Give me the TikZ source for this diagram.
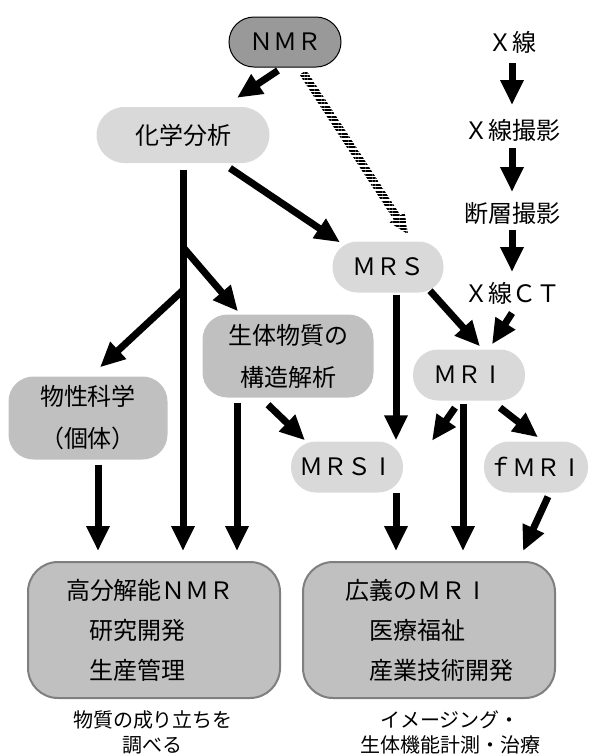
\documentclass[tikz,border=0pt]{standalone}
\usepackage{fontspec}
\setmainfont{Noto Sans CJK JP}
\usetikzlibrary{shapes, arrows.meta, positioning, calc, patterns.meta}

\definecolor{nmrgray}{HTML}{999999}
\definecolor{pillgray}{HTML}{D9D9D9}
\definecolor{boxgray}{HTML}{C0C0C0}
\definecolor{edgegray}{HTML}{7F7F7F}

% plain capital I in a full-width box
\newcommand\wideI{\makebox[1em]{I}}

\begin{document}
\begin{tikzpicture}[x=1pt, y=-1pt,
    pill/.style={fill=pillgray, rounded corners=25pt, minimum height=51pt, inner sep=0pt, font=\fontsize{24}{28}\selectfont},
    topic/.style={fill=boxgray, rounded corners=25pt, minimum height=83pt, inner sep=0pt, align=center, font=\fontsize{24}{42}\selectfont},
    field/.style={fill=boxgray, draw=edgegray, line width=2pt, rounded corners=30pt, minimum width=252pt, minimum height=136pt, inner sep=0pt, align=left, font=\fontsize{24}{40}\selectfont},
    plain/.style={inner sep=0pt, font=\fontsize{24}{28}\selectfont},
    caption/.style={inner sep=0pt, align=center, font=\fontsize{20}{25}\selectfont},
    arr/.style={line width=7pt, -{Triangle[width=22pt,length=25pt]}},
    hatch/.style={pattern={Lines[angle=0,distance=3.4pt,line width=2.1pt]}}
  ]
  \useasboundingbox (0,0) rectangle (591,756);

  % --- NODES ---
  \node[pill, fill=nmrgray, draw=black, line width=1pt, minimum width=112pt, minimum height=50pt] (nmr) at (285,42) {ＮＭＲ};
  \node[pill, minimum width=173pt, minimum height=56pt, rounded corners=28pt] (kagaku) at (183,135) {化学分析};
  \node[pill, minimum width=111pt] (mrs) at (388,267) {ＭＲＳ};
  \node[pill, minimum width=112pt] (mri) at (469,375) {ＭＲ\wideI};
  \node[pill, minimum width=112pt] (mrsi) at (347,467) {ＭＲＳ\wideI};
  \node[pill, minimum width=104pt] (fmri) at (536,467) {ｆＭＲ\wideI};
  \node[topic, minimum width=171pt] (seitai) at (288,356) {生体物質の\\構造解析};
  \node[topic, minimum width=159pt] (bussei) at (88,418) {物性科学\\（個体）};

  % X-ray chain
  \node[plain] (xsen) at (512,42) {Ｘ線};
  \node[plain] (xsatsu) at (512,130) {Ｘ線撮影};
  \node[plain] (dansou) at (512,213) {断層撮影};
  \node[plain] (xct) at (512,293) {Ｘ線ＣＴ};

  % --- FIELDS ---
  \node[field] (koubun) at (154,630) {高分解能ＮＭＲ\hspace*{8pt}\\\hspace*{1em}研究開発\\\hspace*{1em}生産管理};
  \node[field] (kougi) at (429,630) {広義のＭＲ\wideI\\\hspace*{1em}医療福祉\\\hspace*{1em}産業技術開発};
  \node[caption] (capl) at (153,732) {物質の成り立ちを\\調べる};
  \node[caption] (capr) at (450,732) {イメージング・\\生体機能計測・治療};

  % --- ARROWS ---
  \draw[arr] ($(nmr.south)+(-7,3)$) -- ($(kagaku.north)+(54,-9)$);
  \draw[arr] ($(kagaku.south)+(47,5)$) -- ($(mrs.north)+(-48,1)$);

  % trunk of chemical analysis
  \coordinate (b1) at ($(kagaku.south)+(0,84)$);
  \coordinate (b2) at ($(kagaku.south)+(0,127)$);
  \draw[arr, shorten <=7pt, shorten >=10pt] (kagaku.south) -- (kagaku.south |- koubun.north);
  \draw[arr] (b1) -- ($(seitai.north)+(-50,-3)$);
  \draw[arr] (b2) -- ($(bussei.north)+(12,-9)$);

  \draw[arr, shorten >=10pt] ($(seitai.south)+(-51,5)$) coordinate (s1) -- (s1 |- koubun.north);
  \draw[arr] ($(seitai.south)+(-20,7)$) -- ($(mrsi.north)+(-42,-1)$);
  \draw[arr, shorten >=10pt] ($(bussei.south)+(10,5)$) coordinate (p1) -- (p1 |- koubun.north);

  \draw[arr, shorten >=1pt] ($(mrs.south)+(8,2)$) coordinate (m1) -- (m1 |- mrsi.north);
  \draw[arr] ($(mrs.south)+(42,-2)$) -- ($(mri.north)+(11,-3)$);
  \draw[arr] ($(xct.center)+(0,20)$) -- ($(mri.north)+(23,-5)$);

  \coordinate (mleft) at ($(mri.south)+(-37,40)$);
  \draw[arr, shorten >=10pt] ($(mri.south)+(-6,3)$) coordinate (r1) -- (r1 |- kougi.north);
  \draw[arr] ($(mri.south)+(-14,7)$) -- (mleft);
  \draw[arr] ($(mri.south)+(31,7)$) -- ($(fmri.north)+(2,-4)$);

  \draw[arr, shorten >=10pt] ($(mrsi.south)+(49,0)$) coordinate (q1) -- (q1 |- kougi.north);
  \draw[arr] ($(fmri.south)+(12,4)$) -- ($(kougi.north)+(94,-10)$);

  \draw[arr, shorten <=21pt, shorten >=25pt] (xsen.center) -- (xsatsu.center);
  \draw[arr, shorten <=18pt, shorten >=21pt] (xsatsu.center) -- (dansou.center);
  \draw[arr, shorten <=17pt, shorten >=21pt] (dansou.center) -- (xct.center);

  % --- HATCHED LINK (NMR to MRS) ---
  \coordinate (hs) at ($(nmr.south)+(18,5)$);
  \coordinate (ht) at ($(mrs.north)+(20,-7)$);
  \coordinate (hb) at ($(ht)!20pt!(hs)$);
  \fill[hatch] ($(hs)!4pt!90:(ht)$) -- ($(hb)!4pt!90:(ht)$) -- ($(hb)!9pt!90:(ht)$) -- (ht)
    -- ($(hb)!9pt!-90:(ht)$) -- ($(hb)!4pt!-90:(ht)$) -- ($(hs)!4pt!-90:(ht)$) -- cycle;
\end{tikzpicture}
\end{document}
